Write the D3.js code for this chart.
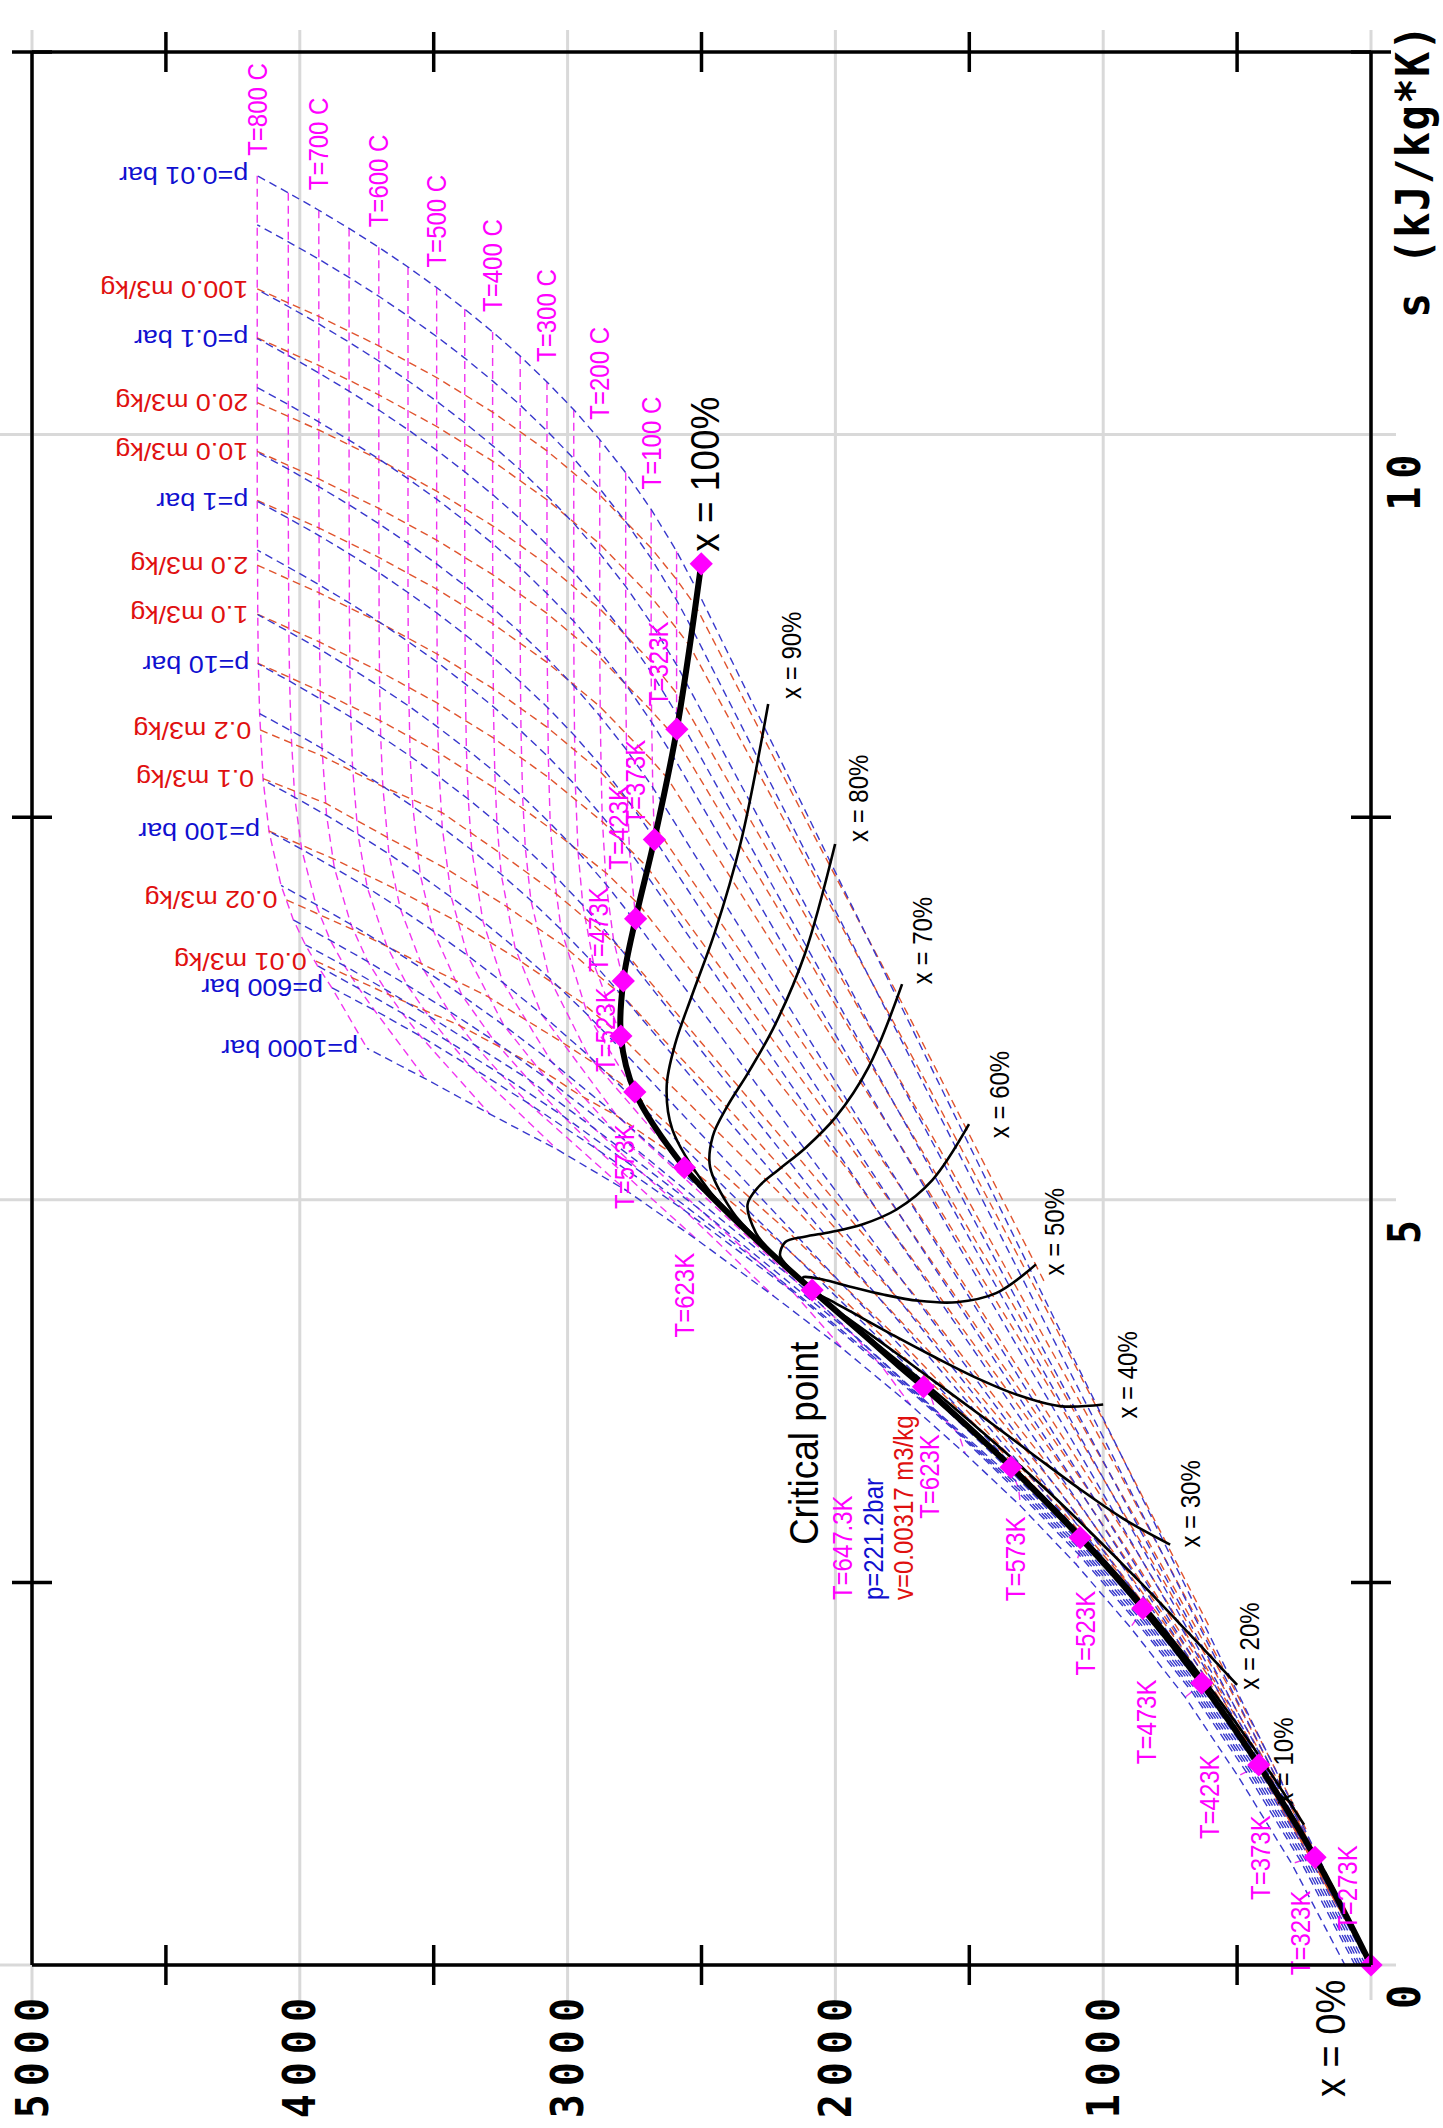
<!DOCTYPE html>
<html>
<head>
<meta charset="utf-8">
<script src="https://cdn.jsdelivr.net/npm/d3@7"></script>
<style>
  body { margin: 0; background: #fff; }
</style>
</head>
<body>
<div id="chart"></div>
<script>
// ---------- data (h in kJ/kg, s in kJ/kg*K) ----------

// saturation line
const domeT    = [273, 323, 373, 423, 473, 523, 573, 623, 633, 643];
const domeLiqH = [0, 209, 419, 632, 852, 1086, 1344, 1671, 1764, 1890];
const domeLiqS = [0, 0.704, 1.307, 1.842, 2.331, 2.793, 3.253, 3.778, 3.916, 4.111];
const domeVapH = [2501, 2592, 2676, 2746, 2792, 2801, 2749, 2564, 2481, 2333];
const domeVapS = [9.156, 8.075, 7.354, 6.837, 6.430, 6.070, 5.705, 5.211, 5.053, 4.800];
const domePsat = [0.00611, 0.1235, 1.014, 4.76, 15.55, 39.76, 85.8, 165.3, 186.7, 210.4];
const crit = [2087, 4.41];
const markerCount = 8;

// quality lines, points at domeT then critical point
const qualX = [10, 20, 30, 40, 50, 60, 70, 80, 90];
const qualH = [
  [250, 447, 645, 843, 1046, 1258, 1485, 1760, 1836, 1934],
  [500, 686, 870, 1055, 1240, 1429, 1625, 1850, 1907, 1979],
  [750, 924, 1096, 1266, 1434, 1601, 1766, 1939, 1979, 2023],
  [1000, 1162, 1322, 1478, 1628, 1772, 1906, 2028, 2051, 2067],
  [1251, 1400, 1548, 1689, 1822, 1944, 2047, 2118, 2123, 2112],
  [1501, 1639, 1773, 1900, 2016, 2115, 2187, 2207, 2194, 2156],
  [1751, 1877, 1999, 2112, 2210, 2286, 2328, 2296, 2266, 2200],
  [2001, 2115, 2225, 2323, 2404, 2458, 2468, 2385, 2338, 2244],
  [2251, 2353, 2450, 2535, 2598, 2630, 2609, 2475, 2409, 2289]
];
const qualS = [
  [0.916, 1.441, 1.912, 2.342, 2.741, 3.121, 3.498, 3.921, 4.030, 4.180],
  [1.831, 2.178, 2.516, 2.841, 3.151, 3.448, 3.743, 4.065, 4.143, 4.249],
  [2.747, 2.915, 3.121, 3.341, 3.561, 3.776, 3.989, 4.208, 4.257, 4.318],
  [3.662, 3.652, 3.726, 3.840, 3.971, 4.104, 4.234, 4.351, 4.371, 4.387],
  [4.578, 4.390, 4.331, 4.340, 4.381, 4.432, 4.479, 4.495, 4.485, 4.456],
  [5.494, 5.127, 4.935, 4.839, 4.790, 4.759, 4.724, 4.638, 4.598, 4.524],
  [6.409, 5.864, 5.540, 5.339, 5.200, 5.087, 4.969, 4.781, 4.712, 4.593],
  [7.325, 6.601, 6.145, 5.838, 5.610, 5.415, 5.215, 4.924, 4.826, 4.662],
  [8.240, 7.338, 6.749, 6.338, 6.020, 5.742, 5.460, 5.068, 4.940, 4.731]
];

// isobars: grid of states at tempC, plus saturation ends
const tempC = [0, 50, 100, 150, 200, 250, 300, 350, 400, 450, 500, 550, 600, 650, 700, 750, 800];
const isoP = [0.01, 0.02, 0.05, 0.1, 0.2, 0.5, 1, 2, 5, 10, 20, 50, 100, 200, 300, 400, 500, 600, 1000];
const isoPLabel = ["p=0.01 bar", "", "", "p=0.1 bar", "", "", "p=1 bar", "", "", "p=10 bar", "", "",
                   "p=100 bar", "", "", "", "", "p=600 bar", "p=1000 bar"];
const isoPTsat = [7.0, 17.5, 32.9, 45.8, 60.1, 81.3, 99.6, 120.2, 151.8, 179.9, 212.4, 263.9, 311.1, 365.8,
                  null, null, null, null, null];
const isoPHf = [29, 74, 138, 192, 251, 340, 417, 505, 640, 763, 909, 1154, 1408, 1826];
const isoPHg = [2514, 2533, 2562, 2585, 2610, 2646, 2676, 2707, 2748, 2778, 2800, 2794, 2725, 2410];
const isoPSf = [0.106, 0.261, 0.476, 0.649, 0.832, 1.091, 1.303, 1.530, 1.861, 2.139, 2.447, 2.920, 3.360, 4.014];
const isoPSg = [8.975, 8.724, 8.395, 8.150, 7.909, 7.594, 7.359, 7.127, 6.821, 6.587, 6.341, 5.973, 5.614, 4.927];
const isoPH = [
  [null, 2593, 2688, 2783, 2880, 2977, 3077, 3177, 3280, 3384, 3489, 3596, 3705, 3816, 3929, 4043, 4159],
  [null, 2593, 2688, 2783, 2880, 2977, 3077, 3177, 3280, 3384, 3489, 3596, 3705, 3816, 3929, 4043, 4159],
  [null, 2593, 2688, 2783, 2880, 2977, 3077, 3177, 3280, 3384, 3489, 3596, 3705, 3816, 3929, 4043, 4159],
  [null, 2593, 2688, 2783, 2880, 2977, 3077, 3177, 3280, 3384, 3489, 3596, 3705, 3816, 3929, 4043, 4159],
  [null, null, 2686, 2783, 2880, 2977, 3077, 3177, 3280, 3384, 3489, 3596, 3705, 3816, 3929, 4043, 4159],
  [null, null, 2682, 2780, 2878, 2976, 3076, 3177, 3279, 3384, 3489, 3596, 3705, 3816, 3929, 4043, 4159],
  [null, null, 2676, 2776, 2875, 2974, 3074, 3176, 3278, 3383, 3488, 3596, 3704, 3815, 3928, 4043, 4159],
  [null, null, null, 2769, 2871, 2971, 3072, 3174, 3277, 3382, 3487, 3595, 3704, 3815, 3928, 4042, 4158],
  [null, null, null, null, 2856, 2961, 3065, 3168, 3272, 3378, 3485, 3592, 3702, 3813, 3926, 4041, 4157],
  [null, null, null, null, 2828, 2943, 3051, 3158, 3264, 3371, 3479, 3588, 3698, 3810, 3923, 4038, 4155],
  [null, null, null, null, null, 2903, 3024, 3137, 3248, 3358, 3468, 3578, 3690, 3803, 3917, 4033, 4150],
  [5, 213, 423, 636, 851, 1086, 2925, 3068, 3196, 3316, 3434, 3550, 3667, 3783, 3900, 4019, 4137],
  [10, 218, 427, 639, 855, 1086, 1343, 2923, 3097, 3241, 3374, 3501, 3625, 3748, 3871, 3993, 4115],
  [20, 227, 434, 645, 860, 1085, 1334, 1646, 2818, 3060, 3238, 3394, 3538, 3675, 3809, 3940, 4070],
  [30, 236, 442, 651, 864, 1086, 1328, 1626, 2151, 2821, 3081, 3275, 3444, 3599, 3746, 3886, 4024],
  [40, 245, 450, 657, 869, 1087, 1321, 1590, 1931, 2513, 2903, 3149, 3346, 3520, 3681, 3833, 3979],
  [49, 254, 457, 663, 876, 1089, 1317, 1560, 1874, 2284, 2720, 3019, 3248, 3441, 3617, 3779, 3934],
  [59, 263, 466, 669, 880, 1091, 1314, 1540, 1830, 2160, 2563, 2890, 3146, 3362, 3550, 3722, 3880],
  [95, 296, 497, 694, 898, 1102, 1309, 1515, 1720, 1975, 2230, 2510, 2780, 3040, 3290, 3530, 3749]
];
const isoPS = [
  [null, 9.238, 9.511, 9.751, 9.967, 10.163, 10.344, 10.513, 10.671, 10.820, 10.961, 11.095, 11.224, 11.347, 11.466, 11.580, 11.691],
  [null, 8.918, 9.191, 9.431, 9.647, 9.843, 10.024, 10.193, 10.351, 10.500, 10.641, 10.775, 10.904, 11.027, 11.146, 11.260, 11.371],
  [null, 8.495, 8.768, 9.008, 9.224, 9.420, 9.601, 9.770, 9.928, 10.077, 10.218, 10.352, 10.481, 10.604, 10.723, 10.837, 10.948],
  [null, 8.175, 8.448, 8.688, 8.904, 9.100, 9.281, 9.450, 9.608, 9.757, 9.898, 10.032, 10.161, 10.284, 10.403, 10.517, 10.628],
  [null, null, 8.120, 8.368, 8.584, 8.780, 8.961, 9.130, 9.288, 9.437, 9.578, 9.712, 9.841, 9.964, 10.083, 10.197, 10.308],
  [null, null, 7.695, 7.940, 8.158, 8.357, 8.538, 8.707, 8.865, 9.014, 9.155, 9.289, 9.418, 9.541, 9.660, 9.774, 9.885],
  [null, null, 7.361, 7.613, 7.834, 8.033, 8.216, 8.385, 8.544, 8.693, 8.834, 8.968, 9.098, 9.221, 9.340, 9.454, 9.565],
  [null, null, null, 7.280, 7.507, 7.709, 7.893, 8.063, 8.222, 8.371, 8.513, 8.647, 8.777, 8.900, 9.019, 9.133, 9.245],
  [null, null, null, null, 7.061, 7.273, 7.461, 7.635, 7.796, 7.946, 8.089, 8.225, 8.354, 8.478, 8.598, 8.712, 8.824],
  [null, null, null, null, 6.694, 6.925, 7.123, 7.301, 7.465, 7.619, 7.762, 7.899, 8.029, 8.154, 8.273, 8.389, 8.501],
  [null, null, null, null, null, 6.545, 6.766, 6.956, 7.127, 7.286, 7.432, 7.570, 7.702, 7.828, 7.949, 8.065, 8.177],
  [0.000, 0.702, 1.303, 1.837, 2.326, 2.788, 6.208, 6.449, 6.646, 6.819, 6.976, 7.122, 7.259, 7.389, 7.512, 7.630, 7.744],
  [0.000, 0.700, 1.299, 1.833, 2.318, 2.777, 3.249, 5.944, 6.212, 6.419, 6.597, 6.756, 6.903, 7.040, 7.169, 7.290, 7.408],
  [0.000, 0.696, 1.292, 1.824, 2.303, 2.757, 3.207, 3.728, 5.554, 5.902, 6.140, 6.335, 6.505, 6.658, 6.799, 6.930, 7.054],
  [0.000, 0.692, 1.284, 1.814, 2.289, 2.736, 3.166, 3.625, 4.473, 5.442, 5.796, 6.040, 6.234, 6.403, 6.556, 6.695, 6.829],
  [0.000, 0.688, 1.277, 1.805, 2.276, 2.717, 3.136, 3.560, 4.114, 4.946, 5.470, 5.791, 6.011, 6.203, 6.375, 6.529, 6.666],
  [-0.001, 0.684, 1.270, 1.795, 2.263, 2.699, 3.108, 3.510, 4.000, 4.589, 5.173, 5.550, 5.818, 6.030, 6.219, 6.380, 6.529],
  [-0.002, 0.680, 1.262, 1.786, 2.251, 2.682, 3.083, 3.470, 3.920, 4.400, 4.930, 5.330, 5.630, 5.870, 6.070, 6.240, 6.385],
  [-0.008, 0.662, 1.235, 1.750, 2.205, 2.620, 3.000, 3.340, 3.660, 4.030, 4.370, 4.730, 5.060, 5.330, 5.560, 5.790, 5.990]
];

// isotherms drawn every 50 C, labelled every 100 C
const isoTList = [50, 100, 150, 200, 250, 300, 350, 400, 450, 500, 550, 600, 650, 700, 750, 800];
const isoTLabelled = [100, 200, 300, 400, 500, 600, 700, 800];

// isochores, from 800 C down into the wet region
const isoV = [100, 50, 20, 10, 5, 2, 1, 0.5, 0.2, 0.1, 0.05, 0.02, 0.01];
const isoVLabel = ["100.0", "", "20.0", "10.0", "", "2.0", "1.0", "", "0.2", "0.1", "", "0.02", "0.01"];
const isoVH = [
  [4159, 3929, 3705, 3489, 3280, 3077, 2880, 2688, 2593, 2521, 2084, 1714, 1213],
  [4159, 3929, 3705, 3489, 3280, 3077, 2880, 2688, 2593, 2542, 1646, 1206, 607],
  [4159, 3929, 3705, 3489, 3280, 3077, 2880, 2688, 2593, 2574, 1604, 933, 508, 243],
  [4159, 3929, 3705, 3489, 3280, 3077, 2880, 2688, 2598, 2189, 1400, 865, 509, 121],
  [4159, 3929, 3705, 3489, 3280, 3077, 2880, 2688, 2627, 1789, 1199, 784, 296, 61],
  [4159, 3929, 3705, 3489, 3280, 3077, 2880, 2686, 2667, 1690, 866, 415, 24],
  [4159, 3929, 3705, 3489, 3279, 3075, 2868, 2701, 1768, 1013, 558, 12],
  [4158, 3928, 3704, 3488, 3277, 3071, 2857, 2734, 1945, 1094, 595, 308, 6],
  [4148, 3916, 3690, 3469, 3256, 3043, 2826, 2777, 1708, 1093, 689, 249, 3],
  [4137, 3902, 3675, 3450, 3231, 3008, 2896, 2799, 2375, 1678, 1170, 554, 225, 1],
  [4116, 3877, 3642, 3414, 3185, 2940, 2801, 2137, 1613, 901, 487, 0],
  [4050, 3795, 3565, 3300, 3030, 2890, 2743, 2641, 2171, 1770, 1157, 740, 446, 0],
  [3940, 3667, 3405, 3125, 2960, 2818, 2600, 2255, 1992, 1428, 1004, 686, 432, 0]
];
const isoVS = [
  [10.952, 10.772, 10.580, 10.373, 10.147, 9.894, 9.606, 9.259, 9.053, 8.877, 7.394, 6.161, 4.441],
  [10.632, 10.452, 10.260, 10.053, 9.827, 9.574, 9.286, 8.939, 8.733, 8.613, 5.718, 4.263, 2.221],
  [10.209, 10.030, 9.837, 9.630, 9.404, 9.151, 8.863, 8.516, 8.310, 8.262, 5.311, 3.193, 1.796, 0.888],
  [9.890, 9.710, 9.518, 9.311, 9.085, 8.832, 8.544, 8.197, 8.022, 6.829, 4.507, 2.874, 1.745, 0.444],
  [9.570, 9.390, 9.198, 8.991, 8.765, 8.512, 8.224, 7.877, 7.754, 5.446, 3.767, 2.540, 1.021, 0.222],
  [9.147, 8.967, 8.775, 8.568, 8.342, 8.089, 7.801, 7.440, 7.425, 4.912, 2.676, 1.360, 0.089],
  [8.827, 8.647, 8.455, 8.248, 8.020, 7.764, 7.467, 7.170, 4.923, 2.994, 1.751, 0.044],
  [8.507, 8.327, 8.135, 7.928, 7.695, 7.435, 7.137, 6.930, 5.175, 3.115, 1.822, 1.011, 0.020],
  [8.070, 7.900, 7.700, 7.530, 7.270, 7.000, 6.680, 6.600, 4.384, 3.018, 2.030, 0.826, 0.010],
  [7.752, 7.590, 7.370, 7.160, 6.920, 6.650, 6.480, 6.340, 5.549, 4.180, 3.114, 1.669, 0.765, 0.0],
  [7.410, 7.230, 7.030, 6.820, 6.570, 6.280, 6.070, 4.919, 3.940, 2.478, 1.488, 0],
  [6.960, 6.760, 6.560, 6.330, 6.040, 5.880, 5.680, 5.516, 4.782, 4.100, 2.975, 2.097, 1.380, 0],
  [6.560, 6.340, 6.140, 5.880, 5.690, 5.550, 5.290, 4.793, 4.385, 3.447, 2.653, 1.969, 1.343, 0]
];

// axes
const hGrid = [0, 1000, 2000, 3000, 4000, 5000];
const hLabels = [1000, 2000, 3000, 4000, 5000];
const hMinor = [500, 1500, 2500, 3500, 4500];
const sGrid = [0, 5, 10];
const sMinor = [2.5, 7.5, 12.5];

// label offsets in px (layout only)
const liqLabelOff = [[-23, -35], [-14, 118], [2, 135], [8, 156], [4, 156], [5, 138], [5, 134], [6, 132]];
const vapLabelOff = [null, [-18, -23], [-19, -15], [-17, -49], [-25, -9], [-15, 36], [-10, 117], [0, 170]];
const qualLabelOff = [[-20, -20], [12, 5], [20, 3], [24, 14], [19, 11], [31, 14], [21, 0], [23, -2], [23, -5]];

// ---------- drawing ----------
const W = 1443, H = 2128;
const svg = d3.select("#chart").append("svg")
    .attr("width", W).attr("height", H)
    .style("background", "#fff");

const xH = d3.scaleLinear().domain([0, 5000]).range([1371, 32]);
const yS = d3.scaleLinear().domain([0, 12.5]).range([1965, 52]);

const BLUE = "#3838cc", RED = "#e0542e", MAG = "#f034f0";
const SANS = "'Liberation Sans', Arial, sans-serif";
const MONO = "'DejaVu Sans Mono', monospace";

const gGrid = svg.append("g");
const gLines = svg.append("g");
const gMain = svg.append("g");
const gText = svg.append("g");
const gFrame = svg.append("g");

function txt(x, y, str, o) {
    gText.append("text")
        .attr("transform", `translate(${x},${y}) scale(${o.sx || 1.12},1) rotate(${o.rot || 0})`)
        .attr("text-anchor", o.anchor || "start")
        .attr("dy", "0.35em")
        .style("font-family", o.mono ? MONO : SANS)
        .style("font-size", o.size + "px")
        .style("font-weight", o.bold ? "bold" : null)
        .style("letter-spacing", o.ls ? o.ls + "px" : null)
        .style("fill", o.color || "#000")
        .text(str);
}

// grid
hGrid.forEach(h => {
    gGrid.append("line")
        .attr("x1", xH(h)).attr("x2", xH(h))
        .attr("y1", yS(12.5) - 22).attr("y2", yS(0) + 35)
        .attr("stroke", "#d9d9d9").attr("stroke-width", 3);
});
sGrid.forEach(s => {
    gGrid.append("line")
        .attr("x1", 0).attr("x2", xH(0) + 25)
        .attr("y1", yS(s)).attr("y2", yS(s))
        .attr("stroke", "#d9d9d9").attr("stroke-width", 3);
});

const line = d3.line().x(d => xH(d[0])).y(d => yS(d[1]));
const smooth = d3.line().x(d => xH(d[0])).y(d => yS(d[1])).curve(d3.curveCatmullRom.alpha(0.5));

function dashed(pts, color) {
    if (pts.length < 2) return;
    gLines.append("path")
        .attr("d", line(pts))
        .attr("fill", "none")
        .attr("stroke", color)
        .attr("stroke-width", 1.4)
        .attr("stroke-dasharray", "8,5");
}

// isotherms
isoTList.forEach(t => {
    const j = tempC.indexOf(t);
    const k = domeT.indexOf(t + 273);
    if (k >= 0) {
        const ps = domePsat[k];
        const vap = [], liq = [[domeLiqH[k], domeLiqS[k]]];
        isoP.forEach((p, i) => {
            if (isoPH[i][j] == null) return;
            if (p < ps) vap.push([isoPH[i][j], isoPS[i][j]]);
            else liq.push([isoPH[i][j], isoPS[i][j]]);
        });
        vap.push([domeVapH[k], domeVapS[k]]);
        dashed(vap, MAG);
        dashed(liq, MAG);
    } else {
        const pts = [];
        isoP.forEach((p, i) => { if (isoPH[i][j] != null) pts.push([isoPH[i][j], isoPS[i][j]]); });
        dashed(pts, MAG);
    }
});

// isochores
isoV.forEach((v, i) => {
    dashed(isoVH[i].map((h, j) => [h, isoVS[i][j]]), RED);
});

// isobars
isoP.forEach((p, i) => {
    const ts = isoPTsat[i];
    const pts = [];
    tempC.forEach((t, j) => {
        if (isoPH[i][j] != null && ts != null && t < ts) pts.push([isoPH[i][j], isoPS[i][j]]);
    });
    if (ts != null) {
        pts.push([isoPHf[i], isoPSf[i]]);
        pts.push([isoPHg[i], isoPSg[i]]);
    }
    tempC.forEach((t, j) => {
        if (isoPH[i][j] != null && (ts == null || t > ts)) pts.push([isoPH[i][j], isoPS[i][j]]);
    });
    dashed(pts, BLUE);
});

// quality lines
qualX.forEach((q, i) => {
    const pts = qualH[i].map((h, j) => [h, qualS[i][j]]);
    pts.push(crit);
    gMain.append("path")
        .attr("d", smooth(pts))
        .attr("fill", "none").attr("stroke", "#000").attr("stroke-width", 2.6);
});

// saturation line
const domePts = domeLiqH.map((h, i) => [h, domeLiqS[i]])
    .concat([crit])
    .concat(domeVapH.map((h, i) => [h, domeVapS[i]]).reverse());
gMain.append("path")
    .attr("d", smooth(domePts))
    .attr("fill", "none").attr("stroke", "#000").attr("stroke-width", 6);

// markers
const diamond = d3.symbol().type(d3.symbolSquare).size(270);
const markerPts = [];
for (let i = 0; i < markerCount; i++) {
    markerPts.push([domeLiqH[i], domeLiqS[i]]);
    markerPts.push([domeVapH[i], domeVapS[i]]);
}
markerPts.push(crit);
gMain.selectAll(".mk").data(markerPts).enter().append("path")
    .attr("class", "mk")
    .attr("d", diamond)
    .attr("transform", d => `translate(${xH(d[0])},${yS(d[1])}) rotate(45)`)
    .attr("fill", "#ff00ff");

// ---------- labels ----------
// isotherm labels at top
isoTLabelled.forEach(t => {
    const j = tempC.indexOf(t);
    txt(xH(isoPH[0][j]), yS(isoPS[0][j]) - 20, `T=${t} C`, {rot: -90, size: 24, color: "#ff00ff"});
});

// isobar labels (upside down, at the 800 C end)
isoP.forEach((p, i) => {
    if (!isoPLabel[i]) return;
    const j = tempC.length - 1;
    txt(xH(isoPH[i][j]) - 9, yS(isoPS[i][j]), isoPLabel[i], {rot: 180, size: 24, color: "#1010d0"});
});

// isochore labels
isoV.forEach((v, i) => {
    if (!isoVLabel[i]) return;
    txt(xH(isoVH[i][0]) - 9, yS(isoVS[i][0]), `${isoVLabel[i]} m3/kg`, {rot: 180, size: 24, color: "#e01010"});
});

// marker labels
for (let i = 0; i < markerCount; i++) {
    const o = liqLabelOff[i];
    txt(xH(domeLiqH[i]) + o[0], yS(domeLiqS[i]) + o[1], `T=${domeT[i]}K`, {rot: -90, size: 24, color: "#ff00ff"});
    const v = vapLabelOff[i];
    if (v) txt(xH(domeVapH[i]) + v[0], yS(domeVapS[i]) + v[1], `T=${domeT[i]}K`, {rot: -90, size: 24, color: "#ff00ff"});
}

// quality labels
qualX.forEach((q, i) => {
    const o = qualLabelOff[i];
    txt(xH(qualH[i][0]) + o[0], yS(qualS[i][0]) + o[1], `x = ${q}%`, {rot: -90, size: 24, color: "#000"});
});
txt(xH(domeVapH[0]) + 3, yS(domeVapS[0]) - 12, "x = 100%", {rot: -90, size: 37, color: "#000"});
txt(xH(domeLiqH[0]) - 41, yS(domeLiqS[0]) + 132, "x = 0%", {rot: -90, size: 38, color: "#000"});

// critical point
const cx = xH(crit[0]), cy = yS(crit[1]);
txt(cx - 9, cy + 255, "Critical point", {rot: -90, size: 37, color: "#000"});
txt(cx + 30, cy + 310, "T=647.3K", {rot: -90, size: 24, color: "#ff00ff"});
txt(cx + 61, cy + 310, "p=221.2bar", {rot: -90, size: 24, color: "#1010d0"});
txt(cx + 91, cy + 310, "v=0.00317 m3/kg", {rot: -90, size: 24, color: "#e01010"});

// tick labels
hLabels.forEach(h => {
    txt(xH(h), yS(0) + 25, String(h), {rot: -90, size: 40, mono: true, ls: 8, anchor: "end", bold: true});
});
sGrid.forEach(s => {
    txt(xH(0) + 33, yS(s) + 12, String(s), {rot: -90, size: 40, mono: true, ls: 8, anchor: "end", bold: true});
});
txt(xH(0) + 42, 318, "s (kJ/kg*K)", {rot: -90, size: 42, mono: true, ls: 1.5, bold: true});

// ---------- frame ----------
const fx0 = xH(5000), fx1 = xH(0), fy0 = yS(12.5), fy1 = yS(0);
const frame = [
    [fx0, fy0, fx0, fy1], [fx1, fy0, fx1, fy1], [fx0, fy1, fx1, fy1]
];
frame.forEach(l => {
    gFrame.append("line").attr("x1", l[0]).attr("y1", l[1]).attr("x2", l[2]).attr("y2", l[3])
        .attr("stroke", "#000").attr("stroke-width", 3.5);
});
hMinor.forEach(h => {
    [fy0, fy1].forEach(y => {
        gFrame.append("line").attr("x1", xH(h)).attr("x2", xH(h))
            .attr("y1", y - 20).attr("y2", y + 20)
            .attr("stroke", "#000").attr("stroke-width", 3.5);
    });
});
sMinor.forEach(s => {
    [fx0, fx1].forEach(x => {
        gFrame.append("line").attr("x1", x - 20).attr("x2", x + 20)
            .attr("y1", yS(s)).attr("y2", yS(s))
            .attr("stroke", "#000").attr("stroke-width", 3.5);
    });
});
gFrame.append("line").attr("x1", fx0).attr("x2", fx1).attr("y1", fy0).attr("y2", fy0)
    .attr("stroke", "#000").attr("stroke-width", 3.5);
</script>
</body>
</html>
